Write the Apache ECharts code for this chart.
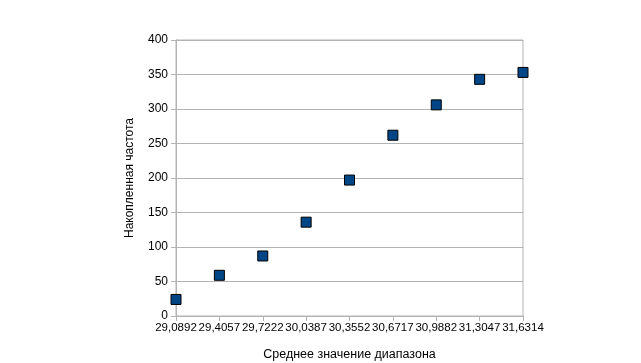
<!DOCTYPE html>
<html><head><meta charset="utf-8">
<script src="https://cdn.jsdelivr.net/npm/echarts@6/dist/echarts.min.js"></script>
<style>html,body{margin:0;padding:0;background:#fff}#c{width:641px;height:363px}</style>
</head><body><div id="c"></div>
<script>
const categories = ["29,0892","29,4057","29,7222","30,0387","30,3552","30,6717","30,9882","31,3047","31,6314"];
const cumulativeFreq = [24, 59, 87, 136, 197, 262, 306, 343, 353];
const yTicks = {min: 0, max: 400, interval: 50};
const xTitle = "Среднее значение диапазона";
const yTitle = "Накопленная частота";

const chart = echarts.init(document.getElementById('c'), null, {renderer: 'canvas'});
const font = 'Liberation Sans, Arial, sans-serif';
chart.setOption({
  animation: false,
  backgroundColor: '#fff',
  grid: {left: 176, right: 118, top: 40, bottom: 47, outerBoundsMode: 'none', containLabel: false,
         show: true, borderColor: '#b3b3b3', borderWidth: 1},
  xAxis: {
    type: 'category', data: categories, boundaryGap: false,
    name: xTitle, nameLocation: 'middle', nameGap: 32,
    nameTextStyle: {fontFamily: font, fontSize: 12.5, color: '#000'},
    axisLine: {lineStyle: {color: '#b3b3b3'}},
    axisTick: {show: true, length: 5, lineStyle: {color: '#b3b3b3'}},
    axisLabel: {interval: 0, hideOverlap: false, fontFamily: font, fontSize: 11.5, color: '#000', margin: 6},
    splitLine: {show: false}
  },
  yAxis: {
    type: 'value', min: yTicks.min, max: yTicks.max, interval: yTicks.interval,
    name: yTitle, nameLocation: 'middle', nameGap: 40, nameRotate: 90,
    nameTextStyle: {fontFamily: font, fontSize: 12, color: '#000'},
    axisLine: {show: true, lineStyle: {color: '#b3b3b3'}},
    axisTick: {show: true, length: 5, lineStyle: {color: '#b3b3b3'}},
    axisLabel: {fontFamily: font, fontSize: 12, color: '#000', margin: 8},
    splitLine: {show: true, lineStyle: {color: '#b3b3b3', width: 1}}
  },
  series: [{
    type: 'scatter', data: cumulativeFreq, symbol: 'rect', symbolSize: 10,
    itemStyle: {color: '#004586', borderColor: '#000', borderWidth: 1, opacity: 1}
  }]
});
</script></body></html>
